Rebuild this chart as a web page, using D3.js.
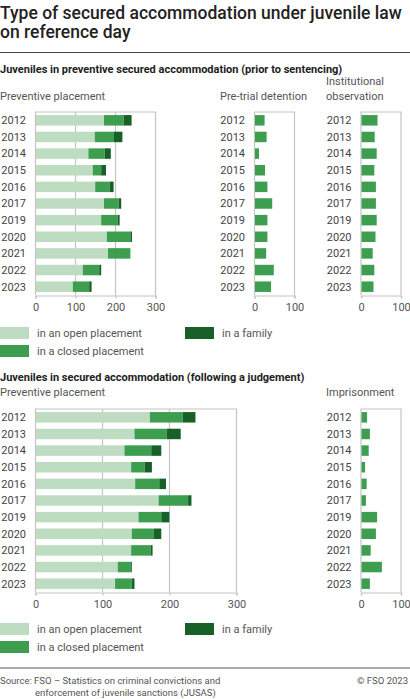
<!DOCTYPE html>
<html>
<head>
<meta charset="utf-8">
<script src="https://cdn.jsdelivr.net/npm/d3@7"></script>
<style>
  body { margin: 0; background: #fff; }
  svg { font-family: Roboto, "Noto Sans", sans-serif; display: block; }
</style>
</head>
<body>
<div id="chart"></div>
<script>
// data
var years = ["2012", "2013", "2014", "2015", "2016", "2017", "2019", "2020", "2021", "2022", "2023"];

// preventive secured accommodation (prior to sentencing)
var prevOpen = [170, 147, 131, 142, 148, 170, 163, 177, 180, 117, 92];
var prevClosed = [49, 48, 41, 21, 36, 37, 41, 59, 56, 41, 41];
var prevFamily = [20, 21, 15, 12, 10, 6, 5, 4, 0, 5, 6];
var pretrial = [24, 29, 10, 25, 31, 43, 31, 31, 28, 47, 40];
var observation = [40, 33, 38, 32, 36, 36, 38, 35, 28, 32, 30];

// secured accommodation (following a judgement)
var judgOpen = [170, 147, 132, 142, 148, 183, 153, 143, 142, 122, 118];
var judgClosed = [49, 48, 40, 20, 36, 44, 34, 33, 29, 19, 25];
var judgFamily = [19, 21, 15, 11, 10, 5, 12, 11, 3, 2, 4];
var imprisonment = [14, 21, 18, 9, 13, 11, 39, 36, 23, 51, 21];

var bigTicks = [0, 100, 200, 300];
var smallTicks = [0, 100];
var legendLabels = ["in an open placement", "in a closed placement", "in a family"];

var colors = ["#bedcc1", "#3d9e50", "#176128"];
var textColor = "#555";
var frameColor = "#c4c4c4";

var width = 410, height = 699;

var svg = d3.select("#chart").append("svg")
  .attr("width", width)
  .attr("height", height);

// title
svg.append("text").attr("x", 0).attr("y", 19)
  .style("font-size", "17.5px").style("font-weight", 500).attr("fill", "#222")
  .text("Type of secured accommodation under juvenile law");
svg.append("text").attr("x", 0).attr("y", 38)
  .style("font-size", "17.5px").style("font-weight", 500).attr("fill", "#222")
  .text("on reference day");
svg.append("line").attr("x1", 0).attr("x2", width).attr("y1", 52.5).attr("y2", 52.5)
  .attr("stroke", "#444").attr("stroke-width", 1);

// draws one panel of horizontal bars (stacked when several series are given)
var drawPanel = function(opt) {
  var g = svg.append("g");

  var xScale = d3.scaleLinear()
    .domain(opt.domain)
    .range([opt.x0, opt.x1]);

  var yScale = d3.scaleBand()
    .domain(years)
    .range([opt.y0, opt.y1])
    .paddingInner(0.37)
    .paddingOuter(0.185);

  // panel title
  opt.title.forEach(function(t, i) {
    g.append("text")
      .attr("x", opt.titleX)
      .attr("y", opt.titleY - (opt.title.length - 1 - i) * 15)
      .style("font-size", "11px")
      .attr("fill", textColor)
      .text(t);
  });

  // gridlines and frame
  g.selectAll(".grid")
    .data(opt.ticks)
    .enter()
    .append("line")
    .attr("x1", function(d) { return xScale(d) + 0.5; })
    .attr("x2", function(d) { return xScale(d) + 0.5; })
    .attr("y1", opt.y0)
    .attr("y2", opt.y1)
    .attr("stroke", frameColor)
    .attr("stroke-width", 1.2);

  g.append("line")
    .attr("x1", opt.x0).attr("x2", opt.x1 + 1)
    .attr("y1", opt.y0).attr("y2", opt.y0)
    .attr("stroke", frameColor).attr("stroke-width", 1.2);

  // stacked bars
  var stackData = years.map(function(y, i) {
    var row = { year: y };
    opt.series.forEach(function(s, k) { row["s" + k] = s[i]; });
    return row;
  });
  var keys = opt.series.map(function(s, k) { return "s" + k; });
  var stacked = d3.stack().keys(keys)(stackData);

  g.selectAll(".layer")
    .data(stacked)
    .enter()
    .append("g")
    .attr("fill", function(d, k) { return opt.colors[k]; })
    .selectAll("rect")
    .data(function(d) { return d; })
    .enter()
    .append("rect")
    .attr("x", function(d) { return xScale(d[0]) + 1; })
    .attr("y", function(d) { return yScale(d.data.year); })
    .attr("width", function(d) { return Math.max(0, xScale(d[1]) - xScale(d[0])); })
    .attr("height", yScale.bandwidth());

  // year labels
  g.selectAll(".year")
    .data(years)
    .enter()
    .append("text")
    .attr("x", opt.x0 - 9)
    .attr("y", function(d) { return yScale(d) + yScale.bandwidth() / 2; })
    .attr("dy", "0.35em")
    .attr("text-anchor", "end")
    .style("font-size", "11px")
    .attr("fill", "#444")
    .text(function(d) { return d; });

  // x axis
  var xAxis = d3.axisBottom(xScale)
    .tickValues(opt.ticks)
    .tickSize(3)
    .tickPadding(5);

  var ax = g.append("g")
    .attr("transform", "translate(0.5," + (opt.y1 + 0.5) + ")")
    .call(xAxis);
  ax.select(".domain").attr("stroke", frameColor).attr("stroke-width", 1.2);
  ax.selectAll(".tick line").attr("stroke", frameColor).attr("stroke-width", 1.2);
  ax.selectAll(".tick text")
    .style("font-size", "11px")
    .style("font-family", "Roboto, sans-serif")
    .attr("fill", textColor);
};

var drawLegend = function(y) {
  var items = [
    { x: 0, y: y, label: legendLabels[0], color: colors[0] },
    { x: 0, y: y + 18, label: legendLabels[1], color: colors[1] },
    { x: 185, y: y, label: legendLabels[2], color: colors[2] }
  ];
  var lg = svg.append("g");
  lg.selectAll("rect")
    .data(items)
    .enter()
    .append("rect")
    .attr("x", function(d) { return d.x; })
    .attr("y", function(d) { return d.y - 6; })
    .attr("width", 29)
    .attr("height", 12)
    .attr("fill", function(d) { return d.color; });
  lg.selectAll("text")
    .data(items)
    .enter()
    .append("text")
    .attr("x", function(d) { return d.x + 37; })
    .attr("y", function(d) { return d.y; })
    .attr("dy", "0.35em")
    .style("font-size", "11px")
    .attr("fill", textColor)
    .text(function(d) { return d.label; });
};

// section 1
svg.append("text").attr("x", 0).attr("y", 73)
  .style("font-size", "11px").style("font-weight", 700).attr("fill", "#222")
  .text("Juveniles in preventive secured accommodation (prior to sentencing)");

drawPanel({ title: ["Preventive placement"], titleX: 0, titleY: 100,
  domain: [0, 300], ticks: bigTicks, x0: 35, x1: 155, y0: 112, y1: 295,
  series: [prevOpen, prevClosed, prevFamily], colors: colors });
drawPanel({ title: ["Pre-trial detention"], titleX: 220, titleY: 100,
  domain: [0, 100], ticks: smallTicks, x0: 254, x1: 294, y0: 112, y1: 295,
  series: [pretrial], colors: [colors[1]] });
drawPanel({ title: ["Institutional", "observation"], titleX: 326, titleY: 100,
  domain: [0, 100], ticks: smallTicks, x0: 360.5, x1: 400.5, y0: 112, y1: 295,
  series: [observation], colors: [colors[1]] });

drawLegend(333);

// section 2
svg.append("text").attr("x", 0).attr("y", 381)
  .style("font-size", "11px").style("font-weight", 700).attr("fill", "#222")
  .text("Juveniles in secured accommodation (following a judgement)");

drawPanel({ title: ["Preventive placement"], titleX: 0, titleY: 396,
  domain: [0, 300], ticks: bigTicks, x0: 35, x1: 236, y0: 409, y1: 592,
  series: [judgOpen, judgClosed, judgFamily], colors: colors });
drawPanel({ title: ["Imprisonment"], titleX: 326, titleY: 396,
  domain: [0, 100], ticks: smallTicks, x0: 360.5, x1: 400.5, y0: 409, y1: 592,
  series: [imprisonment], colors: [colors[1]] });

drawLegend(629);

// footer
svg.append("line").attr("x1", 0).attr("x2", width).attr("y1", 668).attr("y2", 668)
  .attr("stroke", "#555").attr("stroke-width", 1);
svg.append("text").attr("x", 0).attr("y", 684)
  .style("font-size", "9.5px").attr("fill", textColor)
  .text("Source: FSO \u2013 Statistics on criminal convictions and");
svg.append("text").attr("x", 35).attr("y", 696)
  .style("font-size", "9.5px").attr("fill", textColor)
  .text("enforcement of juvenile sanctions (JUSAS)");
svg.append("text").attr("x", 408).attr("y", 684).attr("text-anchor", "end")
  .style("font-size", "9.5px").attr("fill", textColor)
  .text("\u00a9 FSO 2023");
</script>
</body>
</html>
